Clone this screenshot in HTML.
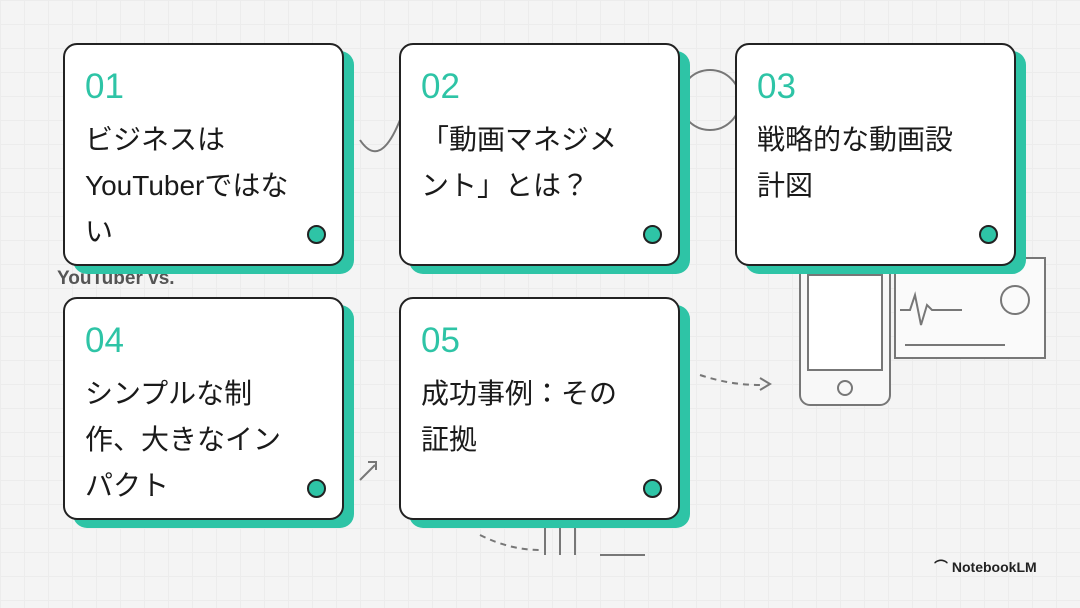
<!DOCTYPE html>
<html><head><meta charset="utf-8"><style>
body{margin:0;width:1080px;height:608px;overflow:hidden;background:#f4f4f4;
background-image:linear-gradient(#ececec 1px,transparent 1px),linear-gradient(90deg,#ececec 1px,transparent 1px);background-size:24px 24px;
font-family:"Liberation Sans","Noto Sans CJK JP",sans-serif;position:relative}
.c{position:absolute;width:277px;height:219px;background:#fff;border:2px solid #222;border-radius:14px;box-shadow:10px 8px 0 #2ec4a6}
.n{position:absolute;left:20px;top:22px;font-size:35px;color:#2ec4a6;font-family:"Liberation Sans",sans-serif}
.t{position:absolute;left:20px;top:72px;right:16px;font-size:28px;line-height:46px;color:#1a1a1a}
.d{position:absolute;left:242px;top:180px;width:15px;height:15px;border-radius:50%;background:#2ec4a6;border:2px solid #222}
.g{position:absolute;color:#888}
</style></head><body>
<svg width="1080" height="608" style="position:absolute;left:0;top:0">
<g fill="none" stroke="#777" stroke-width="2">
<rect x="800" y="258" width="90" height="147" rx="10" fill="#f8f8f8"/>
<rect x="808" y="275" width="74" height="95" fill="#fff"/>
<circle cx="845" cy="388" r="7"/>
<rect x="895" y="258" width="150" height="100" fill="#fafafa"/>
<path d="M900 310 l10 0 5 -15 6 30 6 -20 5 5 30 0"/>
<circle cx="1015" cy="300" r="14"/>
<path d="M905 345 h100" />
<path d="M700 375 q30 10 60 10" stroke-dasharray="6 5"/>
<path d="M760 378 l10 6 -10 6"/>
<path d="M480 535 q30 15 60 15" stroke-dasharray="6 5"/>
<path d="M545 525 v30 M560 520 v35 M575 515 v40 M600 555 h45"/>
<path d="M360 480 l15 -15 M368 462 l8 0 0 8"/>
<circle cx="710" cy="100" r="30"/>
<path d="M360 140 q20 30 40 -20"/>
</g></svg>
<div class="g" style="left:57px;top:268px;font-size:19px;font-weight:bold;color:#555">YouTuber vs.</div>
<div class="c" style="left:63px;top:43px"><div class="n">01</div><div class="t">ビジネスは<br>YouTuberではな<br>い</div><div class="d"></div></div>
<div class="c" style="left:399px;top:43px"><div class="n">02</div><div class="t">「動画マネジメ<br>ント」とは？</div><div class="d"></div></div>
<div class="c" style="left:735px;top:43px"><div class="n">03</div><div class="t">戦略的な動画設<br>計図</div><div class="d"></div></div>
<div class="c" style="left:63px;top:297px"><div class="n">04</div><div class="t">シンプルな制<br>作、大きなイン<br>パクト</div><div class="d"></div></div>
<div class="c" style="left:399px;top:297px"><div class="n">05</div><div class="t">成功事例：その<br>証拠</div><div class="d"></div></div>
<div style="position:absolute;left:934px;top:557px;font-size:14px;color:#222;font-weight:bold">⌒ NotebookLM</div>
</body></html>
